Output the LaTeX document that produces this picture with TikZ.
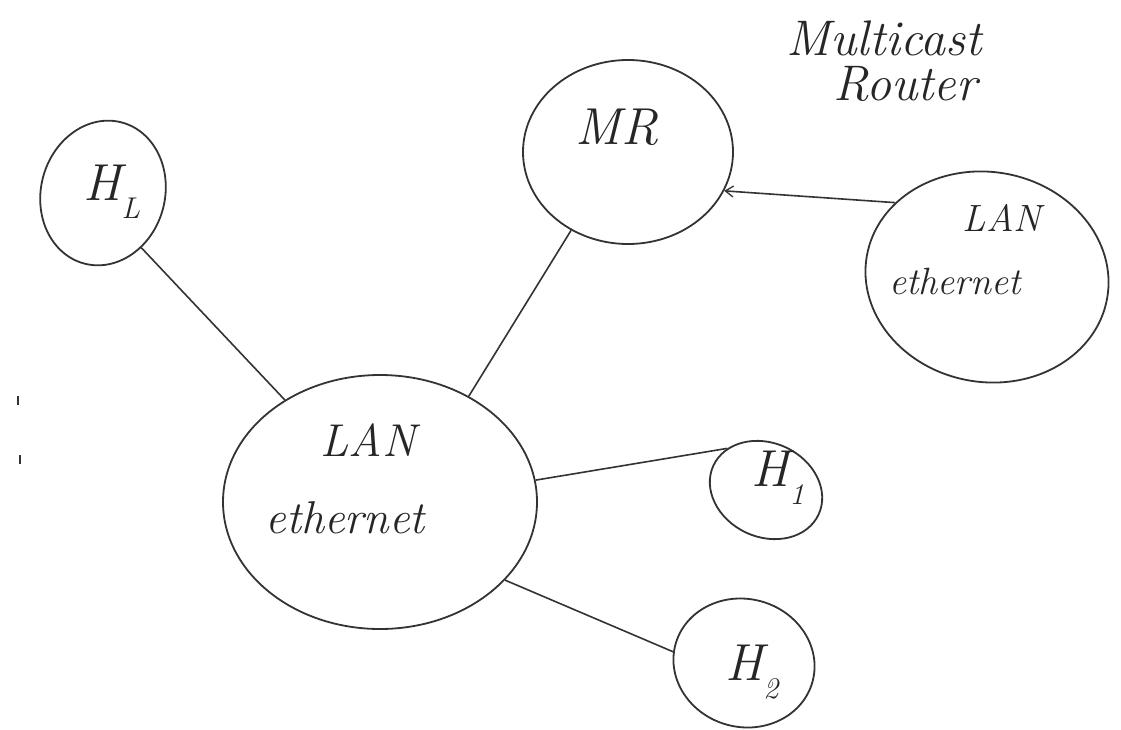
\documentclass[tikz,border=0pt]{standalone}
\usepackage{fontspec}
\usetikzlibrary{shapes.geometric,arrows.meta}
\newcommand{\hsub}[1]{\raisebox{-0.35em}{\fontsize{30}{32}\selectfont #1}}
\tikzset{
  blob/.style={draw=black!80, line width=1.8pt, ellipse, inner sep=0pt},
  wire/.style={draw=black!80, line width=1.6pt},
  hand/.style={inner sep=0pt, text=black!85, font=\itshape\fontsize{46}{50}\selectfont},
  handbig/.style={inner sep=0pt, text=black!85, font=\itshape\fontsize{52}{56}\selectfont},
  handmid/.style={inner sep=0pt, text=black!85, font=\itshape\fontsize{38}{44}\selectfont},
  handtitle/.style={inner sep=0pt, text=black!85, font=\itshape\fontsize{50}{54}\selectfont\addfontfeatures{LetterSpace=14}},
}
\begin{document}
\begin{tikzpicture}[x=1pt,y=-1pt]
\useasboundingbox[fill=white] (0,0) rectangle (1121,730);

% nodes (ellipses)
\node[blob, minimum width=210pt, minimum height=184pt] (mr) at (628,152) {};
\node[blob, minimum width=244pt, minimum height=210pt, rotate=-10] (rlan) at (987,277) {};
\node[blob, minimum width=124pt, minimum height=146pt, rotate=-15] (hl) at (103,193) {};
\node[blob, minimum width=314pt, minimum height=254pt] (lan) at (380,502) {};
\node[blob, minimum width=116pt, minimum height=94pt, rotate=-25] (h1) at (766,490) {};
\node[blob, minimum width=142pt, minimum height=128pt, rotate=-15] (h2) at (744,663) {};

% texts
\node[handbig] (mrt) at (617,127) {MR};
\node[handbig] (hlt) at (112,192) {H\hsub{L}};
\node[hand] (lant) at (368,440) {LAN};
\node[hand] (lane) at (345,518) {ethernet};
\node[handmid] (rlant) at (1002,218) {LAN};
\node[handmid] (rlane) at (955,282) {ethernet};
\node[handbig] (h1t) at (778,478) {H\hsub{1}};
\node[handbig] (h2t) at (752,672) {H\hsub{2}};
\node[handtitle] (mc) at (884,38) {Multicast};
\node[handtitle] (ro) at (905,84) {Router};

% dots on the left
\node[inner sep=0pt, minimum width=2.5pt, minimum height=9pt, fill=black!80] (d1) at (18,400) {};
\node[inner sep=0pt, minimum width=2.5pt, minimum height=9pt, fill=black!80] (d2) at (20,459) {};

% connectors
\draw[wire] (hl.-40) -- (lan.133);
\draw[wire] (mr.-126) -- (lan.50);
\draw[wire, -{Straight Barb[length=8pt,width=11pt,line width=1.3pt]}] (rlan.151) -- (mr.-22);
\draw[wire] (lan.8) -- (h1.158);
\draw[wire] (lan.-32) -- (h2.-174);
\end{tikzpicture}
\end{document}
